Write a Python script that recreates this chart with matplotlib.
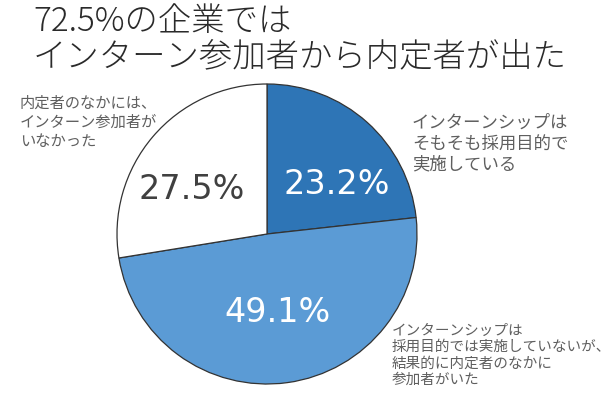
import matplotlib.pyplot as plt

plt.rcParams['font.family'] = ['Noto Sans CJK JP', 'DejaVu Sans']

title_lines = ['72.5%の企業では', 'インターン参加者から内定者が出た']
shares = [23.2, 49.1, 27.5]
pct_labels = ['23.2%', '49.1%', '27.5%']
colors = ['#2E75B6', '#5B9BD5', '#FFFFFF']
pct_colors = ['white', 'white', '#404040']
notes = ['インターンシップは\nそもそも採用目的で\n実施している',
         'インターンシップは\n採用目的では実施していないが、\n結果的に内定者のなかに\n参加者がいた',
         '内定者のなかには、\nインターン参加者が\nいなかった']

W, H = 616, 402
fig = plt.figure(figsize=(W / 100, H / 100), dpi=100)
fig.patch.set_facecolor('white')

# pie: centre (267, 235) px, radius 150 px
cx, cy, r = 267, 235, 150
ax = fig.add_axes([(cx - r) / W, (H - cy - r) / H, 2 * r / W, 2 * r / H])
wedges, _ = ax.pie(shares, colors=colors, startangle=90, counterclock=False,
                   wedgeprops=dict(edgecolor='#333333', linewidth=0.9))
ax.set_xlim(-1, 1)
ax.set_ylim(-1, 1)
ax.set_aspect('equal')
ax.axis('off')

# percentage positions in pixels
pct_pos = [(337, 185), (277, 313), (192, 190)]
for (px, py), t, c in zip(pct_pos, pct_labels, pct_colors):
    fig.text(px / W, 1 - py / H, t, color=c, fontsize=24, family='DejaVu Sans',
             ha='center', va='center')

for i, line in enumerate(title_lines):
    fig.text(33 / W, 1 - (22 + i * 35) / H, line, fontsize=24, fontweight=300,
             color='#2a2a2a', ha='left', va='center')

note_pos = [(412, 114, 12.5, 1.2), (392, 324, 10.5, 1.2), (20, 95, 11, 1.15)]
for (px, py, fs, ls), t in zip(note_pos, notes):
    fig.text(px / W, 1 - py / H, t, fontsize=fs, color='#5f5f5f', ha='left', va='top',
             linespacing=ls)

fig.savefig('out.png', dpi=100, facecolor='white')
